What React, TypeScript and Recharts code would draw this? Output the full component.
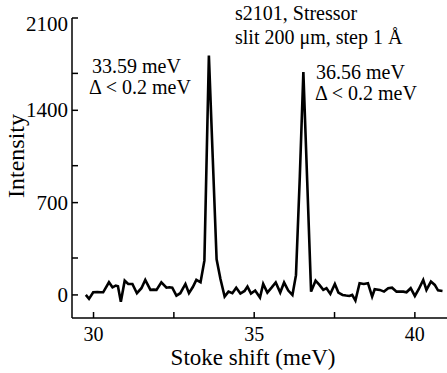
import React from 'react';
import { LineChart, Line, XAxis, YAxis } from 'recharts';

const shiftMeV = [
  29.76, 29.86, 29.99, 30.12, 30.22, 30.3, 30.48, 30.59, 30.69, 30.76, 30.85, 30.97, 31.08, 31.21,
  31.35, 31.49, 31.61, 31.77, 31.87, 31.96, 32.11, 32.27, 32.36, 32.45, 32.58, 32.7, 32.86, 32.97,
  33.09, 33.2, 33.33, 33.45, 33.59, 33.71, 33.83, 33.95, 34.08, 34.2, 34.32, 34.44, 34.57, 34.7,
  34.79, 34.9, 35.03, 35.18, 35.28, 35.41, 35.54, 35.67, 35.81, 35.93, 36.06, 36.19, 36.3, 36.42,
  36.53, 36.65, 36.77, 36.91, 37.03, 37.15, 37.25, 37.37, 37.51, 37.62, 37.75, 37.86, 37.96, 38.05,
  38.15, 38.28, 38.41, 38.54, 38.67, 38.75, 38.91, 39.04, 39.17, 39.29, 39.43, 39.54, 39.64, 39.74,
  39.87, 40.0, 40.12, 40.26, 40.36, 40.5, 40.62, 40.72, 40.86,
];
const intensity = [
  0, -30, 20, 22, 20, 20, 96, 58, 71, 65, -51, 108, 83, 83,
  13, 51, 114, 38, 40, 38, 96, 55, 58, 55, -5, 13, 83, 13,
  60, 114, 96, 260, 1815, 1040, 270, 120, -13, 25, 13, 55, 10, 30,
  63, 10, 33, -20, 84, 18, 55, 94, 18, 94, 33, 0, 150, 900,
  1690, 860, 25, 108, 76, 38, 51, 8, 83, 18, 0, -5, -8, 0,
  -43, 89, 83, 89, -13, 43, 38, 25, 51, 55, 25, 25, 25, 20,
  51, -8, 43, 114, 38, 101, 76, 35, 30,
];

const xTicks = [30, 32.5, 35, 37.5, 40];
const yTicks = [0, 280, 700, 980, 1400, 1680, 2100];

const data = shiftMeV.map((x, i) => ({ x, y: intensity[i] }));

const FONT = '"Liberation Serif", "Times New Roman", serif';
const PLOT_LEFT = 72;
const PLOT_BOTTOM = 318;
const TICK_LEN = 6;

const XTick = (props: any) => {
  const { x, payload } = props;
  const major = payload.value % 5 === 0;
  return (
    <g>
      <line x1={x} x2={x} y1={PLOT_BOTTOM} y2={PLOT_BOTTOM - TICK_LEN} stroke="#000" strokeWidth={1.5} />
      {major && (
        <text x={x} y={341} textAnchor="middle" fontFamily={FONT} fontSize={20} fill="#000">
          {payload.value}
        </text>
      )}
    </g>
  );
};

const YTick = (props: any) => {
  const { y, payload } = props;
  const major = payload.value % 700 === 0;
  // the top label sits just under its tick
  const base = payload.value === 2100 ? y + 13 : y + 7;
  return (
    <g>
      <line x1={PLOT_LEFT} x2={PLOT_LEFT + TICK_LEN} y1={y} y2={y} stroke="#000" strokeWidth={1.5} />
      {major && (
        <text x={68} y={base} textAnchor="end" fontFamily={FONT} fontSize={21} fill="#000">
          {payload.value}
        </text>
      )}
    </g>
  );
};

export default function App() {
  return (
    <div style={{ position: 'absolute', left: 0, top: 0, width: 447, height: 373, background: '#fff' }}>
      <LineChart width={447} height={373} data={data} margin={{ top: 18, right: 0, bottom: 0, left: 0 }}>
        <XAxis
          dataKey="x"
          type="number"
          domain={[29.33, 41.0]}
          ticks={xTicks}
          tick={<XTick />}
          tickLine={false}
          axisLine={{ stroke: '#000', strokeWidth: 1.5 }}
          height={55}
          allowDataOverflow
        />
        <YAxis
          type="number"
          domain={[-175, 2100]}
          ticks={yTicks}
          tick={<YTick />}
          tickLine={false}
          axisLine={{ stroke: '#000', strokeWidth: 1.5 }}
          width={72}
          allowDataOverflow
        />
        <Line
          type="linear"
          dataKey="y"
          stroke="#000"
          strokeWidth={2.6}
          dot={false}
          isAnimationActive={false}
        />
      </LineChart>
      <svg
        width={447}
        height={373}
        style={{ position: 'absolute', left: 0, top: 0, pointerEvents: 'none' }}
        fontFamily={FONT}
        fill="#000"
      >
        <text x={235} y={20} fontSize={20}>s2101, Stressor</text>
        <text x={235} y={44} fontSize={20}>slit 200 μm, step 1 Å</text>
        <text x={92} y={73} fontSize={20}>33.59 meV</text>
        <text x={89} y={94} fontSize={20}>Δ &lt; 0.2 meV</text>
        <text x={316} y={79} fontSize={20}>36.56 meV</text>
        <text x={315} y={100} fontSize={20}>Δ &lt; 0.2 meV</text>
        <text x={253} y={365} fontSize={23} textAnchor="middle">Stoke shift (meV)</text>
        <text x={24} y={156} fontSize={24} textAnchor="middle" transform="rotate(-90 24 156)">Intensity</text>
      </svg>
    </div>
  );
}
